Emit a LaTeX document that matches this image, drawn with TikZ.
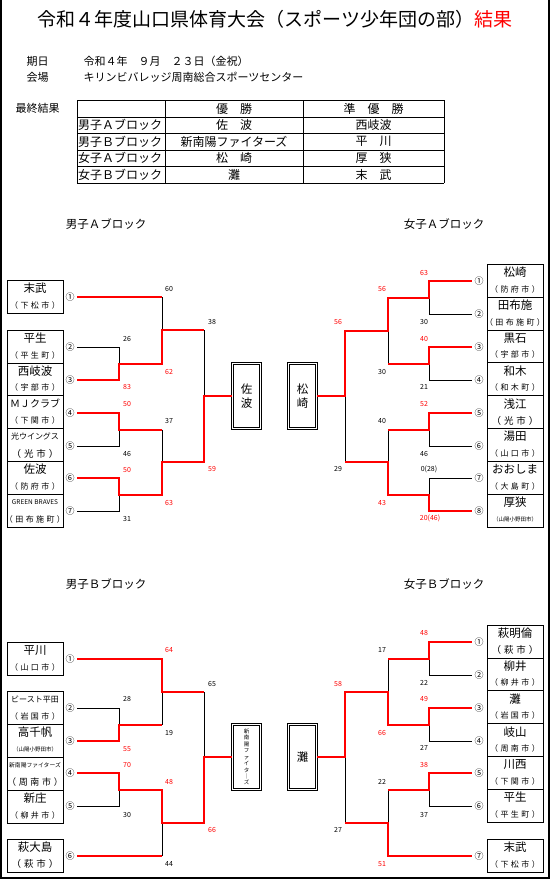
\documentclass[tikz,border=0pt]{standalone}
\usepackage{fontspec}
\setmainfont{Noto Sans CJK JP}
\newfontfamily\cityfont[LetterSpace=30]{Noto Sans CJK JP}
\newcommand\fs[1]{\fontsize{#1}{#1}\selectfont}
\tikzset{
  win/.style={red, line width=2pt},
  lose/.style={black, line width=0.8pt},
  sc/.style={font=\fs{7}, inner sep=0pt},
  scr/.style={sc, text=red},
  num/.style={font=\fs{9}, inner sep=0pt},
  teambox/.style={draw, line width=0.8pt, minimum width=56pt, minimum height=32.9pt, inner sep=0pt},
  tname/.style={font=\fs{11.5}, inner sep=0pt},
  tcity/.style={font=\cityfont\fs{8}, inner sep=0pt},
  champ/.style={draw, double, line width=0.7pt, double distance=1.6pt, minimum width=28pt,
    minimum height=65pt, inner sep=0pt, align=center, font=\fontsize{11.5}{14}\selectfont},
  cell/.style={font=\fs{12}, inner sep=0pt},
}
% チーム枠
\newcommand\team[4]{%
  \node[teambox] (#1) at #2 {};
  \node[tname] (#1n) at ([yshift=8.5pt]#1.center) {#3};
  \node[tcity] (#1c) at ([yshift=-8.5pt]#1.center) {#4};
}
\begin{document}
\begin{tikzpicture}[x=1pt,y=-1pt]
  \useasboundingbox (0,0) rectangle (551,881);
  \draw[line width=2pt] (1,0) -- (1,878) -- (549,878) -- (549,0);
  % 見出し
  \node (title) at (275,19) {\fs{19}令和４年度山口県体育大会（スポーツ少年団の部）\textcolor{red}{結果}};
  \node[anchor=west, font=\fs{11}] (kijitsu) at (23,61) {期日};
  \node[anchor=west, font=\fs{11}] (date) at (80,61) {令和４年　９月　２３日（金祝）};
  \node[anchor=west, font=\fs{11}] (kaijo) at (23,77) {会場};
  \node[anchor=west, font=\fs{11}] (place) at (80,77) {キリンビバレッジ周南総合スポーツセンター};
  % 最終結果の表
  \node[anchor=west, font=\fs{11}] (final) at (12,108.5) {最終結果};
  \foreach \y in {100,117,133,150,166,183}
    \draw[line width=0.9pt] (77,\y) -- (444,\y);
  \foreach \x in {77,165,303,444}
    \draw[line width=0.9pt] (\x,100) -- (\x,183);
  \node[cell] (h1) at (234,108.5) {優　勝};
  \node[cell] (h2) at (373.5,108.5) {準　優　勝};
  \foreach \b/\w/\s [count=\i] in {男子Ａブロック/佐　波/西岐波, 男子Ｂブロック/新南陽ファイターズ/平　川,
      女子Ａブロック/松　崎/厚　狭, 女子Ｂブロック/灘/末　武}
  {
    \pgfmathsetmacro\yy{108.5+16.6*\i}
    \node[cell, anchor=west] (r\i) at (78,\yy) {\b};
    \node[cell] (w\i) at (234,\yy) {\w};
    \node[cell] (s\i) at (373.5,\yy) {\s};
  }
  \node[font=\fs{11.5}] (hmA) at (106,224) {男子Ａブロック};
  \node[font=\fs{11.5}] (hfA) at (444,224) {女子Ａブロック};
  \node[font=\fs{11.5}] (hmB) at (106,584) {男子Ｂブロック};
  \node[font=\fs{11.5}] (hfB) at (444,584) {女子Ｂブロック};

  %===== 男子Ａブロック
  \team{tmA1}{(35,297)}{末武}{（下松市）}
  \team{tmA2}{(35,346.5)}{平生}{（平生町）}
  \team{tmA3}{(35,379.4)}{西岐波}{（宇部市）}
  \team{tmA4}{(35,412.3)}{\fs{10}ＭＪクラブ}{（下関市）}
  \team{tmA5}{(35,445.2)}{\fs{8}光ウイングス}{\fs{9.5}（光市）}
  \team{tmA6}{(35,478.1)}{佐波}{（防府市）}
  \team{tmA7}{(35,511)}{\fs{6.5}GREEN BRAVES}{（田布施町）}
  \foreach \n/\y [count=\i] in {①/297,②/347,③/380,④/413,⑤/446,⑥/478,⑦/511}
    \node[num] (mA\i) at (70,\y) {\n};
  \draw[lose] ([xshift=2.5pt]mA2.east) -- (119,347) -- (119,363.5);
  \draw[lose] ([xshift=2.5pt]mA5.east) -- (119,446) -- (119,429.5);
  \draw[lose] ([xshift=2.5pt]mA7.east) -- (119,511) -- (119,494.5);
  \draw[lose] (162,297) -- (162,330);
  \draw[lose] (162,429.5) -- (162,462);
  \draw[lose] (204,330) -- (204,396);
  \node[champ] (cA1) at (246.5,396) {佐\\波};
  \draw[win] ([xshift=2.5pt]mA1.east) -- (162,297);
  \draw[win] ([xshift=2.5pt]mA3.east) -- (119,380) -- (119,363.5) -- (162,363.5) -- (162,330) -- (204,330);
  \draw[win] ([xshift=2.5pt]mA4.east) -- (119,413) -- (119,429.5) -- (162,429.5);
  \draw[win] ([xshift=2.5pt]mA6.east) -- (119,478) -- (119,494.5) -- (162,494.5) -- (162,462)
    -- (204,462) -- (204,396) -- (cA1.west);
  \foreach \x/\y/\t [count=\i] in {127/339/26, 169/289/60, 127/454/46, 169/421/37, 127/519/31, 212/322/38}
    \node[sc] (mAb\i) at (\x,\y) {\t};
  \foreach \x/\y/\t [count=\i] in {127/387/83, 169/372/62, 127/404/50, 127/470/50, 169/503/63, 212/469/59}
    \node[scr] (mAr\i) at (\x,\y) {\t};

  %===== 女子Ａブロック
  \team{tfA1}{(515,280.6)}{松崎}{（防府市）}
  \team{tfA2}{(515,313.5)}{田布施}{（田布施町）}
  \team{tfA3}{(515,346.4)}{黒石}{（宇部市）}
  \team{tfA4}{(515,379.3)}{和木}{（和木町）}
  \team{tfA5}{(515,412.2)}{浅江}{\fs{9.5}（光市）}
  \team{tfA6}{(515,445.1)}{湯田}{（山口市）}
  \team{tfA7}{(515,478)}{おおしま}{（大島町）}
  \team{tfA8}{(515,510.9)}{厚狭}{\normalfont\fs{5.5}（山陽小野田市）}
  \foreach \n/\y [count=\i] in {①/281,②/314,③/347,④/380,⑤/413,⑥/446,⑦/478,⑧/511}
    \node[num] (fA\i) at (479,\y) {\n};
  \draw[lose] ([xshift=-2.5pt]fA2.west) -- (429,314) -- (429,297.5);
  \draw[lose] ([xshift=-2.5pt]fA4.west) -- (429,380) -- (429,363.5);
  \draw[lose] ([xshift=-2.5pt]fA6.west) -- (429,446) -- (429,429.5);
  \draw[lose] ([xshift=-2.5pt]fA7.west) -- (429,478) -- (429,494.5);
  \draw[lose] (388,363.5) -- (388,330.5);
  \draw[lose] (388,429.5) -- (388,462);
  \draw[lose] (345,462) -- (345,396);
  \node[champ] (cA2) at (302.5,396) {松\\崎};
  \draw[win] ([xshift=-2.5pt]fA3.west) -- (429,347) -- (429,363.5) -- (388,363.5);
  \draw[win] ([xshift=-2.5pt]fA5.west) -- (429,413) -- (429,429.5) -- (388,429.5);
  \draw[win] ([xshift=-2.5pt]fA8.west) -- (429,511) -- (429,494.5) -- (388,494.5) -- (388,462) -- (345,462);
  \draw[win] ([xshift=-2.5pt]fA1.west) -- (429,281) -- (429,297.5) -- (388,297.5) -- (388,330.5)
    -- (345,330.5) -- (345,396) -- (cA2.east);
  \foreach \x/\y/\t [count=\i] in {424/322/30, 424/387/21, 382/372/30, 424/454/46, 382/421/40, 338/469/29}
    \node[sc] (fAb\i) at (\x,\y) {\t};
  \node[sc] (fAb7) at (429,469) {0(28)};
  \foreach \x/\y/\t [count=\i] in {424/273/63, 424/339/40, 382/289/56, 424/404/52, 382/503/43, 338/322/56}
    \node[scr] (fAr\i) at (\x,\y) {\t};
  \node[scr] (fAr7) at (430,518) {20(46)};

  %===== 男子Ｂブロック
  \team{tmB1}{(35,658.5)}{平川}{（山口市）}
  \team{tmB2}{(35,708.2)}{\fs{8}ビースト平田}{（岩国市）}
  \team{tmB3}{(35,741.1)}{高千帆}{\normalfont\fs{5.5}（山陽小野田市）}
  \team{tmB4}{(35,774)}{\fs{5.8}新南陽ファイターズ}{\fs{9}（周南市）}
  \team{tmB5}{(35,806.9)}{新庄}{（柳井市）}
  \team{tmB6}{(35,855.5)}{萩大島}{\fs{9.5}（萩市）}
  \foreach \n/\y [count=\i] in {①/659,②/708,③/741,④/773,⑤/806,⑥/856}
    \node[num] (mB\i) at (70,\y) {\n};
  \draw[lose] ([xshift=2.5pt]mB2.east) -- (119,708) -- (119,724.5);
  \draw[lose] ([xshift=2.5pt]mB5.east) -- (119,806) -- (119,789.5);
  \draw[lose] (162,724.5) -- (162,692);
  \draw[lose] (162,856) -- (162,823);
  \draw[lose] (204,692) -- (204,757);
  \node[champ, font=\fontsize{5.5}{6.45}\selectfont] (cB1) at (246.5,757) {新\\南\\陽\\フ\\ァ\\イ\\タ\\｜\\ズ};
  \draw[win] ([xshift=2.5pt]mB1.east) -- (162,659) -- (162,692) -- (204,692);
  \draw[win] ([xshift=2.5pt]mB3.east) -- (119,741) -- (119,724.5) -- (162,724.5);
  \draw[win] ([xshift=2.5pt]mB6.east) -- (162,856);
  \draw[win] ([xshift=2.5pt]mB4.east) -- (119,773) -- (119,789.5) -- (162,789.5) -- (162,823)
    -- (204,823) -- (204,757) -- (cB1.west);
  \foreach \x/\y/\t [count=\i] in {127/699/28, 169/733/19, 127/815/30, 169/864/44, 212/684/65}
    \node[sc] (mBb\i) at (\x,\y) {\t};
  \foreach \x/\y/\t [count=\i] in {169/650/64, 127/749/55, 127/765/70, 169/782/48, 212/830/66}
    \node[scr] (mBr\i) at (\x,\y) {\t};

  %===== 女子Ｂブロック
  \team{tfB1}{(515,641.5)}{萩明倫}{\fs{9.5}（萩市）}
  \team{tfB2}{(515,674.4)}{柳井}{（柳井市）}
  \team{tfB3}{(515,707.3)}{灘}{（岩国市）}
  \team{tfB4}{(515,740.2)}{岐山}{（周南市）}
  \team{tfB5}{(515,773.1)}{川西}{（下関市）}
  \team{tfB6}{(515,806)}{平生}{（平生町）}
  \team{tfB7}{(515,855.5)}{末武}{（下松市）}
  \foreach \n/\y [count=\i] in {①/642,②/675,③/708,④/741,⑤/773,⑥/806,⑦/856}
    \node[num] (fB\i) at (479,\y) {\n};
  \draw[lose] ([xshift=-2.5pt]fB2.west) -- (429,675) -- (429,658.5);
  \draw[lose] ([xshift=-2.5pt]fB4.west) -- (429,741) -- (429,724.5);
  \draw[lose] ([xshift=-2.5pt]fB6.west) -- (429,806) -- (429,789.5);
  \draw[lose] (388,658.5) -- (388,691.5);
  \draw[lose] (388,789.5) -- (388,823);
  \draw[lose] (345,823) -- (345,757);
  \node[champ] (cB2) at (302.5,757) {灘};
  \draw[win] ([xshift=-2.5pt]fB1.west) -- (429,642) -- (429,658.5) -- (388,658.5);
  \draw[win] ([xshift=-2.5pt]fB5.west) -- (429,773) -- (429,789.5) -- (388,789.5);
  \draw[win] ([xshift=-2.5pt]fB7.west) -- (388,856) -- (388,823) -- (345,823);
  \draw[win] ([xshift=-2.5pt]fB3.west) -- (429,708) -- (429,724.5) -- (388,724.5) -- (388,691.5)
    -- (345,691.5) -- (345,757) -- (cB2.east);
  \foreach \x/\y/\t [count=\i] in {424/683/22, 424/748/27, 382/650/17, 424/815/37, 382/782/22, 338/830/27}
    \node[sc] (fBb\i) at (\x,\y) {\t};
  \foreach \x/\y/\t [count=\i] in {424/633/48, 424/699/49, 382/733/66, 424/765/38, 382/864/51, 338/684/58}
    \node[scr] (fBr\i) at (\x,\y) {\t};
\end{tikzpicture}
\end{document}
